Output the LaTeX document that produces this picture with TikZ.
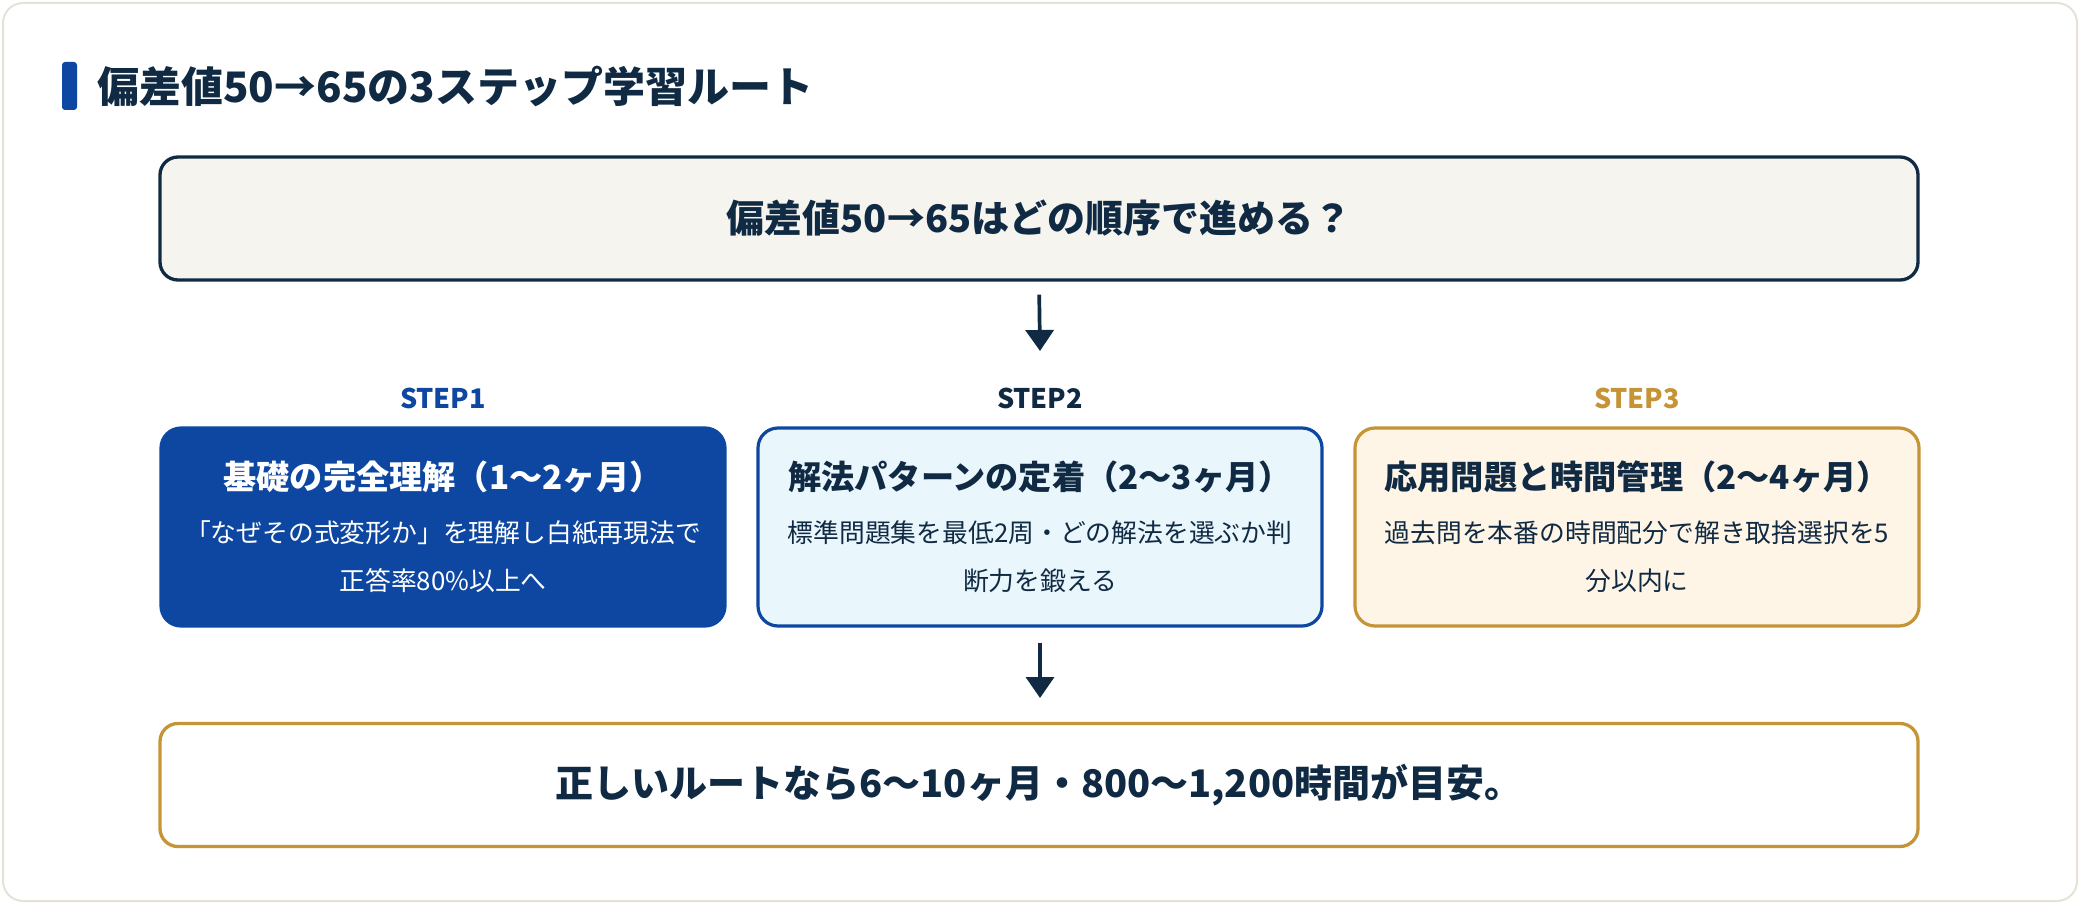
\documentclass[tikz,border=0pt]{standalone}
\usepackage{fontspec}
\setmainfont{Noto Sans CJK JP}
\usetikzlibrary{arrows.meta}
\definecolor{navy}{HTML}{102A43}
\definecolor{blue}{HTML}{0D47A1}
\definecolor{gold}{HTML}{C59436}
\definecolor{topfill}{HTML}{F5F4EF}
\definecolor{bluefill}{HTML}{E9F6FC}
\definecolor{goldfill}{HTML}{FFF5E6}
\definecolor{frame}{HTML}{E6E2D6}
\tikzset{
  widebox/.style={draw=navy, line width=1.65pt, fill=topfill, rounded corners=9pt,
    minimum width=879pt, minimum height=61.5pt, inner sep=0pt, text=navy,
    font=\fontsize{19pt}{23pt}\selectfont\bfseries},
  stepbox/.style={rounded corners=10pt, line width=1.6pt, minimum width=282pt,
    minimum height=99pt, inner sep=0pt},
  steplabel/.style={font=\fontsize{13.5pt}{16pt}\selectfont\bfseries},
  steptitle/.style={font=\fontsize{16.6pt}{20pt}\selectfont\bfseries},
  stepdesc/.style={font=\fontsize{12.9pt}{24pt}\selectfont, align=center},
  arr/.style={draw=navy, line width=1.85pt, -{Triangle[width=14pt,length=10.5pt]}},
}
\begin{document}
\begin{tikzpicture}[x=0.5pt,y=-0.5pt]
\useasboundingbox (0,0) rectangle (2080,904);
\draw[frame, line width=1pt, fill=white, rounded corners=10pt] (3,3) rectangle (2077,901);
% title
\fill[blue, rounded corners=1.5pt] (62,62) rectangle (77,110);
\node[anchor=west, text=navy, font=\fontsize{21pt}{25pt}\selectfont\bfseries, inner sep=0pt] (title) at (97,86) {偏差値50→65の3ステップ学習ルート};
% top box
\node[widebox] (top) at (1039,218.5) {偏差値50→65はどの順序で進める？};
% step labels
\node[steplabel, text=blue] (l1) at (443,398) {STEP1};
\node[steplabel, text=navy] (l2) at (1040,398) {STEP2};
\node[steplabel, text=gold] (l3) at (1637,398) {STEP3};
% step boxes
\node[stepbox, fill=blue, draw=blue] (s1) at (443,527) {};
\node[stepbox, fill=bluefill, draw=blue] (s2) at (1040,527) {};
\node[stepbox, fill=goldfill, draw=gold] (s3) at (1637,527) {};
\node[steptitle, text=white] (s1t) at (443,477) {基礎の完全理解（1〜2ヶ月）};
\node[stepdesc, text=white] (s1d) at (443,557) {「なぜその式変形か」を理解し白紙再現法で\\正答率80\%以上へ};
\node[steptitle, text=navy] (s2t) at (1040,477) {解法パターンの定着（2〜3ヶ月）};
\node[stepdesc, text=navy] (s2d) at (1040,557) {標準問題集を最低2周・どの解法を選ぶか判\\断力を鍛える};
\node[steptitle, text=navy] (s3t) at (1637,477) {応用問題と時間管理（2〜4ヶ月）};
\node[stepdesc, text=navy] (s3d) at (1637,557) {過去問を本番の時間配分で解き取捨選択を5\\分以内に};
% bottom box
\node[widebox, draw=gold, fill=white] (bot) at (1039,785) {正しいルートなら6〜10ヶ月・800〜1,200時間が目安。};
% arrows
\coordinate (a1e) at (1040,351);
\coordinate (a2e) at (1040,698);
\draw[arr, shorten <=6.5pt] (top.south) -- (a1e);
\draw[arr, shorten <=7.5pt] (s2.south) -- (a2e);
\end{tikzpicture}
\end{document}
